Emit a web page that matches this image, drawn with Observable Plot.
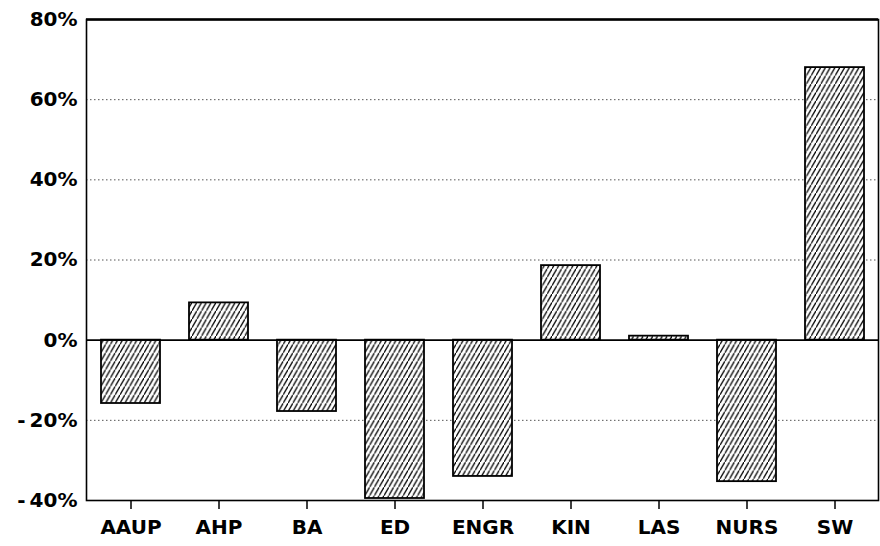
<!DOCTYPE html>
<html>
<head>
<meta charset="utf-8">
<script src="https://cdn.jsdelivr.net/npm/d3@7"></script>
<script src="https://cdn.jsdelivr.net/npm/@observablehq/plot@0.6"></script>
<style>
  html, body { margin: 0; padding: 0; background: #fff; }
</style>
</head>
<body>
<div id="chart"></div>
<script>
const categories = ["AAUP", "AHP", "BA", "ED", "ENGR", "KIN", "LAS", "NURS", "SW"];
const values = [-15.8, 9.3, -17.8, -39.5, -34, 18.6, 1, -35.3, 68];
const yTicks = [-40, -20, 0, 20, 40, 60, 80];
const gridTicks = [-20, 20, 40, 60];

const data = categories.map((c, i) => ({cat: c, val: values[i]}));

const chart = Plot.plot({
  width: 880,
  height: 546,
  marginLeft: 86,
  marginRight: 2,
  marginTop: 19,
  marginBottom: 46,
  style: {fontFamily: "'DejaVu Sans', sans-serif", fontWeight: "bold", fontSize: "20px", color: "#000", background: "#fff"},
  x: {domain: categories, paddingInner: 0.33, paddingOuter: 0.125},
  y: {domain: [-40, 80]},
  marks: [
    Plot.ruleY(gridTicks, {stroke: "#555", strokeWidth: 1, strokeDasharray: "1.5,2.5"}),
    Plot.barY(data, {x: "cat", y: "val", fill: "url(#hatch)", stroke: "#000", strokeWidth: 1.8}),
    Plot.ruleY([0], {stroke: "#000", strokeWidth: 1.6}),
    Plot.frame({stroke: "#000", strokeWidth: 1.6}),
    Plot.ruleY([80], {stroke: "#000", strokeWidth: 2.6}),
    Plot.axisY({ticks: yTicks, tickSize: 0, tickPadding: 9, fontSize: 20, fontWeight: "bold",
      tickFormat: d => `${d < 0 ? "-\u2009" : ""}${Math.abs(d)}%`, label: null}),
    Plot.axisX({tickSize: 9, tickPadding: 10, fontSize: 20, fontWeight: "bold", label: null, strokeWidth: 1.5})
  ]
});

d3.select(chart).insert("defs", ":first-child").html(`
  <pattern id="hatch" patternUnits="userSpaceOnUse" width="4.8" height="8.4">
    <rect width="4.8" height="8.4" fill="#fff"/>
    <line x1="-1.2" y1="10.5" x2="6" y2="-2.1" stroke="#000" stroke-width="1.3"/>
  </pattern>`);

document.getElementById("chart").appendChild(chart);
</script>
</body>
</html>
